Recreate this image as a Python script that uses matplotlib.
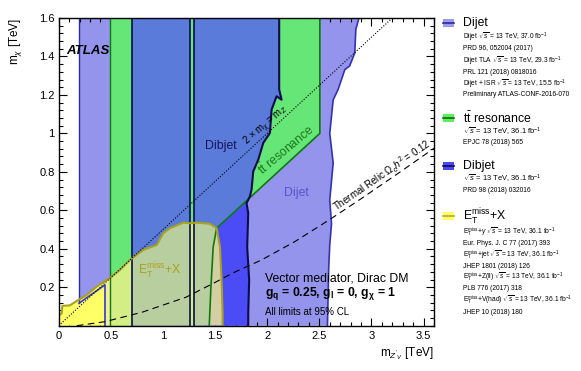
import numpy as np
import matplotlib
matplotlib.use('Agg')
import matplotlib.pyplot as plt
from matplotlib.patches import Polygon, Rectangle
from matplotlib.ticker import MultipleLocator, FuncFormatter

plt.rcParams['font.family'] = ['Liberation Sans', 'DejaVu Sans']
plt.rcParams['mathtext.fontset'] = 'custom'
plt.rcParams['mathtext.rm'] = 'Liberation Sans'
plt.rcParams['mathtext.it'] = 'Liberation Sans:italic'
plt.rcParams['mathtext.bf'] = 'Liberation Sans:bold'

# exclusion contours (m_Z'  [TeV], m_chi [TeV])
dijet_left = 0.195
dijet_right_x = [2.578, 2.59, 2.60, 2.617, 2.60, 2.633, 2.60, 2.633, 2.68, 2.745, 2.79, 2.84, 2.85, 2.88]
dijet_right_y = [0.0, 0.30, 0.42, 0.53, 0.654, 0.846, 1.0, 1.175, 1.228, 1.332, 1.35, 1.418, 1.54, 1.6]

isr_x = [0.195, 0.444, 0.444]
isr_y = [0.117, 0.212, 0.0]

tt_bands = [(0.49, 0.70), (1.255, 1.30)]
tt_curve_x = [1.444, 1.46, 1.482, 1.515]
tt_curve_y = [0.0, 0.20, 0.41, 0.507]
tt_diag_x = [1.515, 2.505]
tt_diag_y = [0.507, 1.0]

dibjet_band = (0.70, 1.255)
dibjet_left = 1.30
dibjet_x = [2.115, 2.115, 2.138, 2.09, 2.042, 2.026, 1.962, 1.914, 1.866, 1.85, 1.834,
            1.802, 1.818, 1.808, 1.827, 1.818, 1.818]
dibjet_y = [1.6, 1.228, 1.175, 1.193, 1.123, 1.002, 0.95, 0.863, 0.802, 0.707, 0.672,
            0.637, 0.585, 0.41, 0.238, 0.064, 0.0]
dibjet_split = 10  # point where the dibjet contour meets the ttbar diagonal

emiss_x = [0.0, 0.0, 0.012, 0.029, 0.035, 0.108, 0.19, 0.27, 0.364, 0.46, 0.508, 0.588,
           0.684, 0.811, 0.94, 1.003, 1.067, 1.195, 1.259, 1.323, 1.45, 1.515, 1.547,
           1.565, 1.572, 1.572]
emiss_y = [0.0, 0.047, 0.06, 0.064, 0.103, 0.106, 0.134, 0.16, 0.203, 0.238, 0.255, 0.29,
           0.342, 0.394, 0.42, 0.481, 0.507, 0.536, 0.533, 0.536, 0.53, 0.507, 0.41,
           0.2, 0.064, 0.0]

relic_x = [0.173, 0.444, 0.8, 1.22, 1.5, 1.674, 1.946, 2.266, 2.60, 2.9, 3.25, 3.62]
relic_y = [0.0, 0.021, 0.07, 0.148, 0.225, 0.275, 0.342, 0.4375, 0.552, 0.66, 0.79, 0.93]

kin_x = np.array([0.0, 3.6])

LP = '#9494ec'
MB = '#5a7bd9'
GR = '#66e677'
SB = '#4b4cf5'
YE = '#ffff66'
PALE = '#eef09a'
YG = '#d4ee86'
GG = '#b9ce9e'
KH = '#d3cfa3'
NAVY = '#0c0c4c'
DKGR = '#0d7a0d'
OLIVE = '#a8a21e'

fig = plt.figure(figsize=(5.81, 3.71), dpi=100)
ax = fig.add_axes([58.7 / 581, 1 - 325.7 / 371, (434 - 58.7) / 581, (325.7 - 18) / 371])
ax.set_xlim(0, 3.6)
ax.set_ylim(0, 1.6)

# dijet (light purple)
rx = dijet_right_x[::-1]
ry = dijet_right_y[::-1]
ax.add_patch(Polygon([(dijet_left, 0), (dijet_left, 1.6)] + list(zip(rx, ry)),
                     closed=True, fc=LP, ec='none', zorder=1))

# ttbar resonance (green)
for a, b in tt_bands:
    ax.axvspan(a, b, fc=GR, lw=0, zorder=2)
ax.add_patch(Polygon([(tt_diag_x[0], tt_diag_y[0]), (tt_diag_x[1], tt_diag_y[1]),
                      (tt_diag_x[1], 1.6), (tt_diag_x[0], 1.6)],
                     closed=True, fc=GR, ec='none', zorder=2))

# dibjet (blue)
ax.axvspan(dibjet_band[0], dibjet_band[1], fc=MB, lw=0, zorder=3)
mb = [(dibjet_left, 0), (dibjet_left, 1.6)]
mb += list(zip(dibjet_x[:dibjet_split + 1], dibjet_y[:dibjet_split + 1]))
mb += list(zip(tt_curve_x[::-1], tt_curve_y[::-1]))
ax.add_patch(Polygon(mb, closed=True, fc=MB, ec='none', zorder=3))
sb = list(zip(tt_curve_x, tt_curve_y)) + list(zip(dibjet_x[dibjet_split:], dibjet_y[dibjet_split:]))
ax.add_patch(Polygon(sb, closed=True, fc=SB, ec='none', zorder=3))

# MET+X, coloured according to what lies underneath
emiss = Polygon(list(zip(emiss_x, emiss_y)), closed=True, fc='none', ec='none')
ax.add_patch(emiss)
bands = [(0.0, 0.444, YE), (0.444, 0.49, PALE), (0.49, 0.70, YG), (0.70, 1.255, GG),
         (1.255, 1.30, YG)]
for a, b, c in bands:
    p = ax.axvspan(a, b, fc=c, lw=0, zorder=4)
    p.set_clip_path(emiss)
gg = Polygon([(1.30, 0), (1.30, 0.6), (1.52, 0.6)] + list(zip(tt_curve_x[::-1], tt_curve_y[::-1])),
             closed=True, fc=GG, ec='none', zorder=4)
ax.add_patch(gg)
gg.set_clip_path(emiss)
kh = Polygon(list(zip(tt_curve_x, tt_curve_y)) + [(1.52, 0.6), (1.7, 0.6), (1.7, 0)],
             closed=True, fc=KH, ec='none', zorder=4)
ax.add_patch(kh)
kh.set_clip_path(emiss)

# contour lines
ax.plot([dijet_left, dijet_left], [isr_y[0], 1.6], color='#2c2ca8', lw=1, zorder=5)
ax.plot(dijet_right_x, dijet_right_y, color='#3333b0', lw=1.2, zorder=5)
ax.plot(isr_x, isr_y, color='#3a3ac8', lw=1.2, zorder=5)
ax.plot([tt_bands[0][0]] * 2, [0, 1.6], color=DKGR, lw=1, zorder=5)
ax.plot(tt_diag_x + [tt_diag_x[1]], tt_diag_y + [1.6], color=DKGR, lw=1.2, zorder=5)
ax.plot(tt_curve_x, tt_curve_y, color=DKGR, lw=1.2, zorder=5)
for xv in [dibjet_band[0], dibjet_band[1], dibjet_left]:
    ax.plot([xv, xv], [0, 1.6], color=NAVY, lw=1.2, zorder=5)
ax.plot(dibjet_x, dibjet_y, color=NAVY, lw=1.5, zorder=5)
ax.plot(emiss_x[1:], emiss_y[1:], color=OLIVE, lw=1.5, zorder=6)

ax.plot(kin_x, kin_x / 2, color='k', ls=(0, (1, 1.5)), lw=0.8, zorder=7)
ax.plot(relic_x, relic_y, color='k', ls=(0, (6, 4)), lw=0.8, zorder=7)

# labels inside the plot
ax.text(0.077, 1.415, 'ATLAS', fontsize=9.5, fontweight='bold', fontstyle='italic', zorder=8)
ax.text(1.40, 0.932, 'Dibjet', fontsize=8.8, color='#14145a', va='center', zorder=8)
ax.text(2.04, 1.008, r'2 $\times$ m$_{\chi}$ = m$_{Z}$', fontsize=7, rotation=41,
        rotation_mode='anchor', ha='center', va='bottom', zorder=8)
ax.text(2.18, 0.915, r'$\mathrm{t\bar{t}}$ resonance', fontsize=8.8, color='#1c7a1c',
        rotation=40, rotation_mode='anchor', ha='center', va='center', zorder=8)
ax.text(2.28, 0.69, 'Dijet', fontsize=8.8, color='#5555c8', ha='center', va='center', zorder=8)
ax.text(0.76, 0.285, r'E$_{\mathrm{T}}^{\mathrm{miss}}$+X', fontsize=8.8, color=OLIVE,
        va='center', zorder=8)
ax.text(2.67, 0.59, r'Thermal Relic $\Omega_{c}h^{2}$ = 0.12', fontsize=7, rotation=34.6,
        rotation_mode='anchor', ha='left', va='baseline', zorder=8, clip_on=True)
ax.text(1.978, 0.243, 'Vector mediator, Dirac DM', fontsize=8.8, va='center', zorder=8)
ax.text(1.978, 0.169, r'$\mathbf{g_{q}}$ = 0.25, $\mathbf{g_{l}}$ = 0, $\mathbf{g_{\chi}}$ = 1',
        fontsize=8.8, fontweight='bold', va='center', zorder=8)
ax.text(1.978, 0.073, 'All limits at 95% CL', fontsize=7, va='center', zorder=8)

# axes styling
ax.xaxis.set_major_locator(MultipleLocator(0.5))
ax.xaxis.set_minor_locator(MultipleLocator(0.1))
ax.set_yticks([0.2, 0.4, 0.6, 0.8, 1.0, 1.2, 1.4, 1.6])
ax.yaxis.set_minor_locator(MultipleLocator(0.04))
fmt = FuncFormatter(lambda v, p: '%g' % v)
ax.xaxis.set_major_formatter(fmt)
ax.yaxis.set_major_formatter(fmt)
ax.tick_params(which='both', direction='in', top=True, right=True, width=0.8, labelsize=8)
ax.tick_params(which='major', length=6)
ax.tick_params(which='minor', length=3)
ax.tick_params(axis='x', pad=4)
ax.tick_params(axis='y', pad=3)
for s in ax.spines.values():
    s.set_linewidth(1)
    s.set_zorder(9)

# legend and axis titles drawn in pixel coordinates on an overlay
lax = fig.add_axes([0, 0, 1, 1])
lax.set_xlim(0, 581)
lax.set_ylim(371, 0)
lax.axis('off')

lax.text(16, 18, r'm$_{\chi}$ [TeV]', fontsize=8.5, rotation=90, ha='center', va='top')
lax.text(434, 354, r"m$_{Z'_{V}}$ [TeV]", fontsize=8.5, ha='right', va='center')

legend_heads = [('Dijet', 23, '#9a9af0', '#2a2a9a'),
                (r'$\mathrm{t\bar{t}}$ resonance', 118.5, '#5cf05c', '#116611'),
                ('Dibjet', 166, '#4848f5', '#0a0a50'),
                (r'E$_{\mathrm{T}}^{\mathrm{miss}}$+X', 216.5, '#ffff66', '#b0a830')]
legend_lines = [
    (r'Dijet $\sqrt{s}$ = 13 TeV, 37.0 fb$^{-1}$', 37, 4.8),
    ('PRD 96, 052004 (2017)', 49, 4.8),
    (r'Dijet TLA $\sqrt{s}$ = 13 TeV, 29.3 fb$^{-1}$', 61, 4.8),
    ('PRL 121 (2018) 0818016', 72, 4.8),
    (r'Dijet + ISR $\sqrt{s}$ = 13 TeV, 15.5 fb$^{-1}$', 84, 4.8),
    ('Preliminary ATLAS-CONF-2016-070', 95, 4.8),
    (r'$\sqrt{s}$ = 13 TeV, 36.1 fb$^{-1}$', 131.5, 5.4),
    ('EPJC 78 (2018) 565', 142.5, 4.8),
    (r'$\sqrt{s}$ = 13 TeV, 36.1 fb$^{-1}$', 179, 5.4),
    ('PRD 98 (2018) 032016', 190, 4.8),
    (r'E$_{\mathrm{T}}^{\mathrm{miss}}$+$\gamma$ $\sqrt{s}$ = 13 TeV, 36.1 fb$^{-1}$', 232.5, 4.8),
    ('Eur. Phys. J. C 77 (2017) 393', 243.5, 4.8),
    (r'E$_{\mathrm{T}}^{\mathrm{miss}}$+jet $\sqrt{s}$ = 13 TeV, 36.1 fb$^{-1}$', 255, 4.8),
    ('JHEP 1801 (2018) 126', 266, 4.8),
    (r'E$_{\mathrm{T}}^{\mathrm{miss}}$+Z(ll) $\sqrt{s}$ = 13 TeV, 36.1 fb$^{-1}$', 277.5, 4.8),
    ('PLB 776 (2017) 318', 289, 4.8),
    (r'E$_{\mathrm{T}}^{\mathrm{miss}}$+V(had) $\sqrt{s}$ = 13 TeV, 36.1 fb$^{-1}$', 300.5, 4.8),
    ('JHEP 10 (2018) 180', 312, 4.8),
]

for label, y, fc, lc in legend_heads:
    lax.add_patch(Rectangle((443, y - 4.5), 11, 8, fc=fc, ec='none'))
    lax.plot([443, 454], [y - 0.5, y - 0.5], color=lc, lw=1.2)
    lax.text(463, y, label, fontsize=8.8, va='center', ha='left')
for label, y, fs in legend_lines:
    lax.text(463, y, label, fontsize=fs, va='center', ha='left')

fig.savefig('out.png', dpi=100)
